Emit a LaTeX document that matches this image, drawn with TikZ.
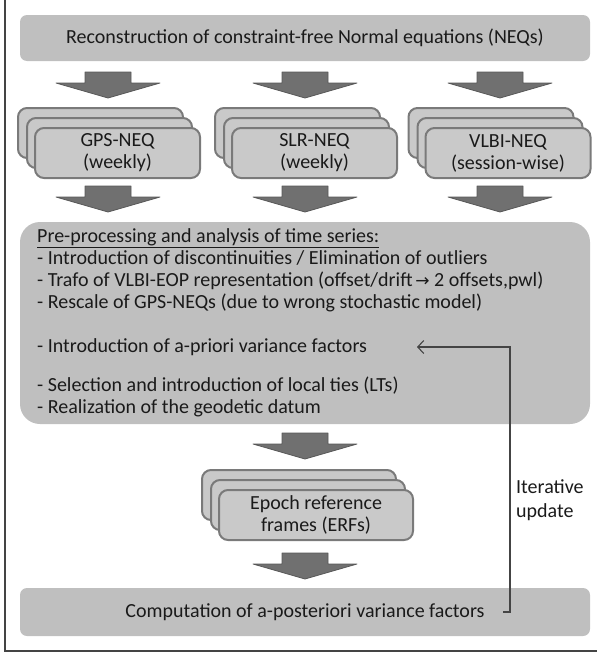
\documentclass[tikz,border=0pt]{standalone}
\usepackage{fontspec}
\setmainfont{Carlito}
\newfontfamily\symfont{DejaVu Sans}
\usetikzlibrary{positioning,arrows.meta}

\definecolor{panelgray}{RGB}{191,191,191}
\definecolor{stackfill}{RGB}{201,201,201}
\definecolor{stackline}{RGB}{122,122,122}
\definecolor{arrowfill}{RGB}{112,112,112}
\definecolor{arrowline}{RGB}{88,88,88}
\definecolor{framegray}{RGB}{68,68,68}
\definecolor{textgray}{RGB}{26,26,26}

\tikzset{
  panel/.style={fill=panelgray, rounded corners=7pt, minimum width=570pt, inner sep=0pt, text=textgray},
  stackbox/.style={fill=stackfill, draw=stackline, line width=2pt, rounded corners=9pt,
    minimum height=50pt, inner sep=0pt, align=center, text=textgray},
  textline/.style={anchor=west, inner sep=0pt, text height=14pt, text depth=4pt, text=textgray},
  fatarrow/.style={fill=arrowfill, draw=arrowline, line width=0.8pt, line join=round},
}

% stack of three boxes: name, x, y, width, text
\newcommand\neqstack[5]{%
  \node[stackbox, minimum width=#4] (#1-3) at (#2-17,#3-20) {};
  \node[stackbox, minimum width=#4] (#1-2) at (#2-8,#3-10) {};
  \node[stackbox, minimum width=#4] (#1) at (#2,#3) {#5};
}
% block arrow pointing down: x, top
\newcommand\fatarrow[2]{%
  \draw[fatarrow] (#1-23,#2) -- (#1+23,#2) -- (#1+23,#2+11) -- (#1+52,#2+11)
    -- (#1,#2+26) -- (#1-52,#2+11) -- (#1-23,#2+11) -- cycle;
}

\begin{document}
\begin{tikzpicture}[x=1pt, y=-1pt, font=\fontsize{20}{22}\selectfont]
\useasboundingbox (0,0) rectangle (597,656);

% frame
\draw[framegray, line width=1.5pt] (5,0) -- (5,651) -- (597,651);

% top box
\node[panel, minimum height=46pt] (recon) at (305,38)
  {Reconstruction of constraint-free Normal equations (NEQs)};

\fatarrow{108}{72}
\fatarrow{305}{72}
\fatarrow{500}{72}

% NEQ stacks
\neqstack{gps}{117.5}{153}{165pt}{GPS-NEQ\\(weekly)}
\neqstack{slr}{314.5}{153}{165pt}{SLR-NEQ\\(weekly)}
\neqstack{vlbi}{508}{153}{165pt}{VLBI-NEQ\\(session-wise)}

\fatarrow{108}{186}
\fatarrow{305}{186}
\fatarrow{500}{186}

% pre-processing box
\node[panel, rounded corners=20pt, minimum height=202pt] (prep) at (305,323) {};
\node[textline] (pre0) at (37,237) {\underline{Pre-processing and analysis of time series:}};
\node[textline] (pre1) at (37,259) {- Introduction of discontinuities / Elimination of outliers};
\node[textline] (pre2) at (37,281) {- Trafo of VLBI-EOP representation (offset/drift{\symfont\fontsize{17}{20}\selectfont\,→} 2 offsets,pwl)};
\node[textline] (pre3) at (37,303) {- Rescale of GPS-NEQs (due to wrong stochastic model)};
\node[textline] (pre4) at (37,347) {- Introduction of a-priori variance factors};
\node[textline] (pre5) at (37,386) {- Selection and introduction of local ties (LTs)};
\node[textline] (pre6) at (37,408) {- Realization of the geodetic datum};

\fatarrow{305}{433}

% epoch reference frames
\neqstack{erf}{316}{515}{194pt}{Epoch reference\\frames (ERFs)}

\fatarrow{305}{553}

% bottom box
\node[panel, minimum height=48pt] (comp) at (305,612)
  {Computation of a-posteriori variance factors};

% iterative update
\coordinate (upd-start) at (503,612);
\coordinate (upd-end) at (417,347);
\draw[framegray, line width=1.1pt, -{Straight Barb[length=6pt,width=13pt]}]
  (upd-start) -- ++(7,0) |- (upd-end);
\node[anchor=west, align=left, inner sep=0pt, text=textgray,
  font=\fontsize{20}{24}\selectfont] (iter) at (516,500) {Iterative\\update};
\end{tikzpicture}
\end{document}
